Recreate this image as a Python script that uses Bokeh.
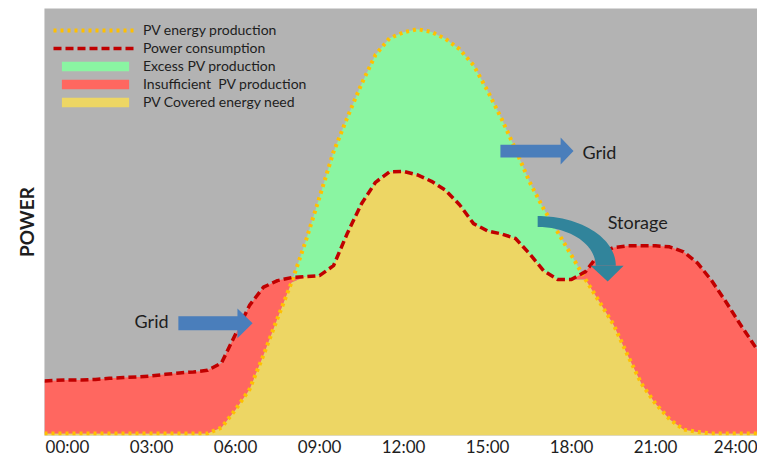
import numpy as np
from bokeh.plotting import figure
from bokeh.models import FixedTicker, Legend, LegendItem, Range1d, BoxAnnotation
from bokeh.core.properties import value
from bokeh.embed import file_html
from bokeh.resources import INLINE

# ---------------- data (hours of day, power in arbitrary units) ----------------
HOURS = [-0.82, 0, 0.5, 1, 1.5, 2, 2.5, 3, 3.5, 4, 4.5, 5, 5.5, 6, 6.5, 7, 7.5, 8,
         8.5, 9, 9.5, 10, 10.5, 11, 11.5, 12, 12.5, 13, 13.5, 14, 14.5, 15, 15.5,
         16, 16.5, 17, 17.5, 18, 18.5, 19, 19.5, 20, 20.5, 21, 21.5, 22, 22.5, 23,
         23.5, 24, 24.64]

PV_PRODUCTION = [0, 0, 0, 0, 0, 0, 0, 0, 0, 0, 0, 0, 1.5, 6, 11.1, 19.75, 29, 38,
                 48.25, 59.5, 70.9, 79.7, 88, 95.35, 99.5, 101, 101.8, 101.1, 99.35,
                 96.75, 92.7, 86.3, 79.25, 71.5, 63.35, 56.6, 50.75, 44.8, 38.75,
                 33.1, 27.4, 19.75, 12.5, 7.5, 3.6, 1, 0.4, 0, 0, 0, 0]

CONSUMPTION = [13.25, 13.5, 13.5, 13.6, 13.9, 14.1, 14.25, 14.5, 14.9, 15.25, 15.5,
               15.9, 17.75, 25, 32.25, 36.85, 38.5, 39.25, 39.5, 39.75, 42.25, 50.5,
               57.85, 63.25, 65.9, 66, 65.1, 63.5, 61.25, 57.6, 52.85, 51, 50.25,
               49.1, 45.25, 41, 38.8, 38.8, 40.75, 45.4, 46.8, 47.25, 47.25, 47.25,
               47, 45.75, 42.9, 38.5, 33.3, 27.75, 21]

TICK_HOURS = [0, 3, 6, 9, 12, 15, 18, 21, 24]
TICK_LABELS = ["00:00", "03:00", "06:00", "09:00", "12:00", "15:00", "18:00", "21:00", "24:00"]

SERIES_NAMES = ["PV energy production", "Power consumption", "Excess PV production",
                "Insufficient  PV production", "PV Covered energy need"]

# ---------------- style ----------------
FONT = "Lato"
BORDER_BG = "#c9c9c9"
PLOT_BG = "#b3b3b3"
GREEN = "#8af5a2"
RED = "#ff6760"
YELLOW = "#edd664"
PV_LINE = "#ffc000"
CONS_LINE = "#c00000"
BLUE = "#4a7ebb"
TEAL = "#31849b"
TEXT = "#1e1e1e"

X_START, X_END = -0.82, 24.64
Y_START, Y_END = -0.5, 107

hours = np.array(HOURS, dtype=float)
pv = np.array(PV_PRODUCTION, dtype=float)
cons = np.array(CONSUMPTION, dtype=float)
covered = np.minimum(pv, cons)

p = figure(width=757, height=459, output_backend="svg", toolbar_location=None,
           x_range=Range1d(X_START, X_END), y_range=Range1d(Y_START, Y_END),
           min_border_left=44, min_border_right=0, min_border_top=8, min_border_bottom=21)
p.background_fill_color = PLOT_BG
p.border_fill_color = "white"
p.outline_line_color = None
p.grid.visible = False

# light grey strips of the frame around the plot area (left and bottom)
def strip(left, right, top, bottom):
    return BoxAnnotation(left=left, right=right, top=top, bottom=bottom,
                         left_units="canvas", right_units="canvas",
                         top_units="canvas", bottom_units="canvas",
                         fill_color=BORDER_BG, fill_alpha=1, line_color=None,
                         level="underlay", editable=False)

p.add_layout(strip(7, 44, 8, 459))
p.add_layout(strip(7, 757, 436, 459))

# fills
r_yellow = p.varea(x=hours, y1=Y_START, y2=covered, fill_color=YELLOW)
r_green = p.varea(x=hours, y1=covered, y2=pv, fill_color=GREEN)
r_red = p.varea(x=hours, y1=covered, y2=cons, fill_color=RED)

# lines
r_pv = p.line(hours, pv, line_color=PV_LINE, line_width=4, line_dash="3 4")
r_cons = p.line(hours, cons, line_color=CONS_LINE, line_width=3.5, line_dash="8 4")

# ---------------- annotation arrows ----------------
def block_arrow(x0, x1, tip, yc, body, head):
    xs = [x0, x1, x1, tip, x1, x1, x0]
    ys = [yc + body, yc + body, yc + head, yc, yc - head, yc - body, yc - body]
    return xs, ys

ax, ay = block_arrow(3.96, 6.07, 6.61, 27.75, 1.75, 3.75)
p.patch(ax, ay, fill_color=BLUE, line_color=None)
ax, ay = block_arrow(15.46, 17.61, 18.07, 71.1, 1.6, 3.4)
p.patch(ax, ay, fill_color=BLUE, line_color=None)

# curved storage arrow
cx, cy = 16.79, 42.25
t_out = np.linspace(np.pi / 2, 0, 40)
t_in = np.linspace(0, np.pi / 2, 40)
arc_x = np.concatenate([cx + 2.79 * np.cos(t_out), cx + 2.07 * np.cos(t_in)])
arc_y = np.concatenate([cy + 12.5 * np.sin(t_out), cy + 9.75 * np.sin(t_in)])
p.patch(arc_x, arc_y, fill_color=TEAL, line_color=None)
p.patch([18.68, 19.86, 19.29], [42.25, 42.25, 38.25], fill_color=TEAL, line_color=None)

# texts
p.text(x=[3.61], y=[28.25], text=["Grid"], text_align="right", text_baseline="middle",
       text_font=value(FONT), text_font_size="18px", text_color=TEXT)
p.text(x=[18.39, 19.29], y=[70.75, 53.25], text=["Grid", "Storage"], text_align="left",
       text_baseline="middle", text_font=value(FONT), text_font_size="18px", text_color=TEXT)

# ---------------- axes ----------------
xa = p.xaxis[0]
xa.ticker = FixedTicker(ticks=TICK_HOURS)
xa.major_label_overrides = dict(zip(TICK_HOURS, TICK_LABELS))
xa.axis_line_color = None
xa.major_tick_line_color = None
xa.minor_tick_line_color = None
xa.major_tick_out = 0
xa.major_tick_in = 0
xa.minor_tick_out = 0
xa.minor_tick_in = 0
xa.major_label_standoff = 0
xa.major_label_text_font = FONT
xa.major_label_text_font_size = "17px"
xa.major_label_text_color = TEXT

ya = p.yaxis[0]
ya.ticker = FixedTicker(ticks=[])
ya.axis_line_color = None
ya.major_tick_line_color = None
ya.minor_tick_line_color = None
ya.major_tick_out = 0
ya.major_tick_in = 0
ya.minor_tick_out = 0
ya.minor_tick_in = 0
ya.axis_label = "POWER"
ya.axis_label_text_font = FONT
ya.axis_label_text_font_style = "bold"
ya.axis_label_text_font_size = "19px"
ya.axis_label_text_color = TEXT
ya.axis_label_standoff = 7

# ---------------- legend ----------------
legend = Legend(items=[
    LegendItem(label=SERIES_NAMES[0], renderers=[r_pv]),
    LegendItem(label=SERIES_NAMES[1], renderers=[r_cons]),
    LegendItem(label=SERIES_NAMES[2], renderers=[r_green]),
    LegendItem(label=SERIES_NAMES[3], renderers=[r_red]),
    LegendItem(label=SERIES_NAMES[4], renderers=[r_yellow]),
], location=(9, 325))
legend.margin = 0
legend.padding = 0
legend.spacing = 1
legend.glyph_width = 84
legend.glyph_height = 12
legend.label_height = 14
legend.label_standoff = 6
legend.label_text_font = FONT
legend.label_text_font_size = "14px"
legend.label_text_color = TEXT
legend.background_fill_alpha = 0
legend.border_line_color = None
p.add_layout(legend)

open("out.html", "w").write(file_html(p, INLINE))
